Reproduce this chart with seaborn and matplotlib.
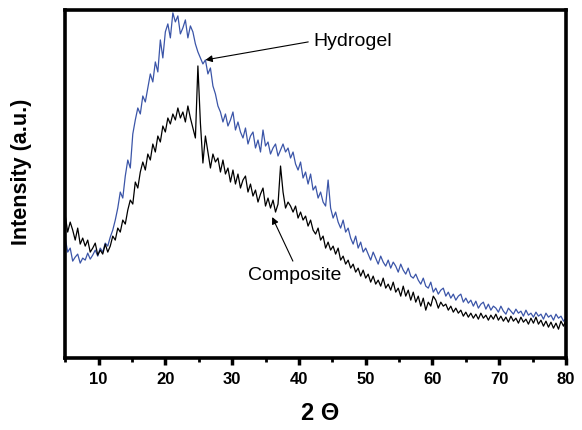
import numpy as np
import pandas as pd
import seaborn as sns
import matplotlib.pyplot as plt
from matplotlib.ticker import MultipleLocator

# 2-theta grid (degrees), 0.375 deg step from 5 to 80
two_theta = np.linspace(5, 80, 201)

hydrogel = [
    120, 106, 110, 97, 101, 104, 95, 100, 98, 105, 99, 103, 108, 102, 110, 106, 115, 112, 121, 128,
    138, 150, 166, 160, 182, 198, 190, 224, 238, 250, 244, 262, 256, 270, 284, 276, 296, 286, 318, 300,
    326, 334, 320, 345, 336, 342, 324, 330, 338, 320, 332, 326, 314, 306, 300, 294, 298, 284, 290, 272,
    264, 252, 246, 236, 244, 232, 238, 246, 228, 236, 226, 220, 230, 214, 222, 226, 210, 218, 206, 228,
    212, 216, 204, 210, 214, 202, 208, 214, 206, 210, 200, 206, 194, 188, 196, 180, 186, 174, 184, 168,
    172, 160, 166, 156, 152, 178, 150, 140, 146, 136, 130, 138, 126, 130, 120, 114, 122, 110, 116, 106,
    110, 104, 98, 106, 100, 94, 102, 96, 92, 98, 90, 96, 92, 86, 94, 88, 84, 90, 82, 80,
    84, 78, 74, 80, 72, 70, 76, 66, 70, 64, 68, 70, 62, 66, 60, 64, 58, 62, 64, 56,
    60, 55, 58, 52, 57, 50, 54, 56, 49, 54, 48, 52, 50, 46, 52, 47, 44, 50, 47, 44,
    49, 45, 47, 42, 48, 43, 45, 41, 46, 42, 44, 39, 45, 41, 43, 38, 44, 40, 42, 37,
    40,
]

composite = [
    143, 126, 136, 128, 118, 130, 114, 120, 112, 118, 106, 110, 115, 103, 108, 104, 114, 106, 112, 122,
    118, 130, 126, 138, 134, 148, 158, 154, 176, 170, 186, 196, 188, 204, 198, 214, 206, 222, 216, 232,
    226, 240, 234, 244, 238, 250, 240, 246, 236, 252, 240, 230, 220, 292, 235, 195, 222, 206, 190, 204,
    196, 200, 186, 198, 184, 190, 176, 188, 174, 184, 170, 178, 182, 166, 174, 162, 168, 156, 164, 170,
    152, 160, 150, 158, 146, 154, 192, 166, 150, 156, 152, 146, 152, 140, 146, 138, 142, 132, 138, 128,
    124, 130, 118, 122, 110, 116, 108, 112, 104, 110, 98, 102, 94, 98, 90, 94, 86, 90, 82, 88,
    80, 84, 76, 82, 74, 78, 72, 80, 70, 74, 68, 76, 66, 70, 62, 72, 62, 68, 58, 66,
    56, 62, 52, 60, 48, 56, 52, 62, 58, 50, 56, 52, 54, 48, 52, 46, 50, 45, 48, 42,
    46, 41, 45, 40, 44, 39, 45, 40, 43, 38, 43, 39, 44, 38, 42, 37, 41, 36, 42, 37,
    40, 35, 41, 36, 39, 34, 40, 35, 41, 34, 38, 32, 37, 31, 36, 30, 35, 29, 37, 32,
    38,
]

series_names = ["Hydrogel", "Composite"]
series_colors = ["#3b55a8", "#000000"]
x_ticks = [10, 20, 30, 40, 50, 60, 70, 80]

df = pd.concat([
    pd.DataFrame({"two_theta": two_theta, "intensity": hydrogel, "sample": "Hydrogel"}),
    pd.DataFrame({"two_theta": two_theta, "intensity": composite, "sample": "Composite"}),
])

sns.set_theme(style="white")
plt.rcParams["font.family"] = ["Liberation Sans", "DejaVu Sans"]
plt.rcParams["text.color"] = "black"
plt.rcParams["axes.labelcolor"] = "black"
plt.rcParams["xtick.color"] = "black"
plt.rcParams["xtick.labelcolor"] = "black"

fig = plt.figure(figsize=(5.82, 4.30), dpi=100)
ax = fig.add_axes([0.112, 0.167, 0.8605, 0.810])

sns.lineplot(data=df, x="two_theta", y="intensity", hue="sample",
             hue_order=series_names, palette=series_colors,
             linewidth=0.9, legend=False, ax=ax, estimator=None, sort=False)

ax.set_xlim(5, 80)
ax.set_ylim(0, 348)

ax.set_xticks(x_ticks)
ax.xaxis.set_minor_locator(MultipleLocator(5))
ax.tick_params(axis="x", which="major", direction="out", length=5, width=2.5,
               labelsize=12, pad=5, bottom=True, colors="black", labelcolor="black")
ax.tick_params(axis="x", which="minor", direction="out", length=3, width=2.0,
               bottom=True, colors="black")
for lab in ax.get_xticklabels():
    lab.set_fontweight("bold")
ax.set_yticks([])

for s in ax.spines.values():
    s.set_linewidth(2.6)
    s.set_color("black")

ax.set_xlabel("2 \u0398", fontsize=17, fontweight="bold", color="black")
ax.xaxis.set_label_coords(0.509, -0.125)
ax.set_ylabel("Intensity (a.u.)", fontsize=15.5, fontweight="bold", color="black")
ax.yaxis.set_label_coords(-0.066, 0.536)

# annotations
ax.text(42.1, 316, "Hydrogel", fontsize=14, color="black", va="center", ha="left")
ax.annotate("", xy=(26.0, 298), xytext=(41.4, 316),
            arrowprops=dict(arrowstyle="-|>", color="black", lw=0.8,
                            mutation_scale=10, shrinkA=0, shrinkB=0))
ax.text(39.4, 83, "Composite", fontsize=14, color="black", va="center", ha="center")
ax.annotate("", xy=(36.0, 141), xytext=(39.1, 97),
            arrowprops=dict(arrowstyle="-|>", color="black", lw=0.8,
                            mutation_scale=10, shrinkA=0, shrinkB=0))

fig.savefig("out.png", dpi=100)
